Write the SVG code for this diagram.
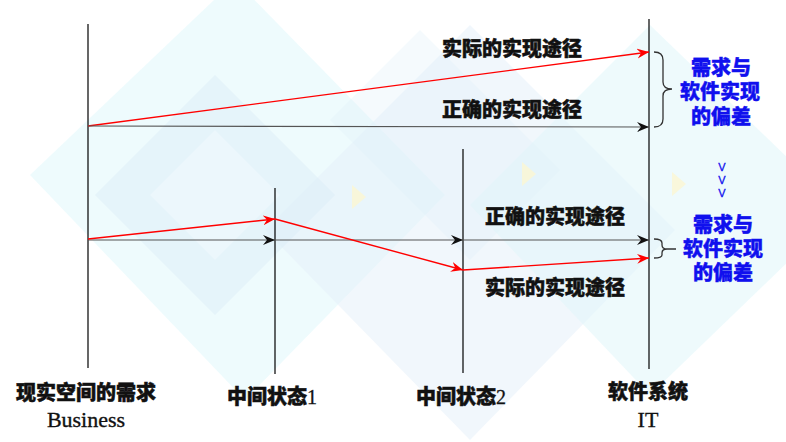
<svg xmlns="http://www.w3.org/2000/svg" width="786" height="442" viewBox="0 0 786 442">
<defs>
<style>
.vl{stroke:#000;stroke-width:1.2;fill:none}
.blk{stroke:#555;stroke-width:1.2;fill:none}
.red{stroke:#ff0000;stroke-width:1.4;fill:none}
.brace{stroke:#333;stroke-width:1.3;fill:none}
.cn{font-family:"Noto Sans CJK SC","Noto Sans",sans-serif;font-weight:900;font-size:20px;fill:#111;stroke:#111;stroke-width:0.5;text-anchor:middle}
.bl{font-family:"Noto Sans CJK SC","Noto Sans",sans-serif;font-weight:900;font-size:20px;fill:#1010ee;stroke:#1010ee;stroke-width:0.4;text-anchor:middle}
.en{font-family:"Liberation Serif",serif;font-size:22px;fill:#111;stroke:#111;stroke-width:0.35;text-anchor:middle}
.dg{font-family:"Liberation Serif",serif;font-weight:400;stroke:#111;stroke-width:0.3}
.chev{font-family:"Liberation Sans",sans-serif;font-size:11px;fill:#1010ee;stroke:#1010ee;stroke-width:0.3;text-anchor:middle}
</style>
<marker id="ab" markerUnits="userSpaceOnUse" markerWidth="13" markerHeight="11" refX="12" refY="5" orient="auto" viewBox="0 0 13 11">
<path d="M0,0 L12,5 L0,10 L4,5 z" fill="#111"/>
</marker>
<marker id="ar" markerUnits="userSpaceOnUse" markerWidth="13" markerHeight="11" refX="12" refY="5" orient="auto" viewBox="0 0 13 11">
<path d="M0,0 L12,5 L0,10 L4,5 z" fill="#ff0000"/>
</marker>
</defs>
<g id="background">
<rect width="786" height="442" fill="#ffffff"/>
<polygon points="30,175 235,-20 445,195 245,400" fill="#e2f8fb" opacity="0.6"/>
<polygon points="265,230 470,25 675,230 470,440" fill="#e5f0fa" opacity="0.55"/>
<polygon points="470,205 650,25 790,160 790,260 650,395" fill="#e0f5f9" opacity="0.55"/>
<polygon points="95,195 215,75 335,195 215,315" fill="#dcedf8" opacity="0.5"/>
<polygon points="150,195 215,130 280,195 215,260" fill="#eef8fc" opacity="0.8"/>
<polygon points="330,120 420,30 560,170 470,260" fill="#ddeef8" opacity="0.3"/>
<polygon points="352,185 366,197 352,209" fill="#fbf6d2" opacity="0.8"/>
<polygon points="522,162 536,174 522,186" fill="#fbf6d2" opacity="0.8"/>
<polygon points="672,172 686,184 672,196" fill="#fbf6d2" opacity="0.8"/>
</g>
<g id="node-business">
<line class="vl" x1="88" y1="24" x2="88" y2="368"/>
<text class="cn" x="86" y="400">现实空间的需求</text>
<text class="en" x="86" y="427">Business</text>
</g>
<g id="node-state1">
<line class="vl" x1="275" y1="188" x2="275" y2="374"/>
<text class="cn" x="272" y="404">中间状态<tspan class="dg">1</tspan></text>
</g>
<g id="node-state2">
<line class="vl" x1="463" y1="149" x2="463" y2="373"/>
<text class="cn" x="461" y="404">中间状态<tspan class="dg">2</tspan></text>
</g>
<g id="node-it">
<line class="vl" x1="649" y1="19" x2="649" y2="369"/>
<text class="cn" x="648" y="399">软件系统</text>
<text class="en" x="648" y="427">IT</text>
</g>
<g id="connectors">
<line class="red" x1="88" y1="126" x2="649" y2="52" marker-end="url(#ar)"/>
<line class="blk" x1="88" y1="126" x2="649" y2="127" marker-end="url(#ab)"/>
<line class="blk" x1="88" y1="240" x2="275" y2="240" marker-end="url(#ab)"/>
<line class="blk" x1="275" y1="240" x2="463" y2="240" marker-end="url(#ab)"/>
<line class="blk" x1="463" y1="240" x2="649" y2="240" marker-end="url(#ab)"/>
<line class="red" x1="88" y1="239" x2="275" y2="219" marker-end="url(#ar)"/>
<line class="red" x1="275" y1="219" x2="463" y2="270" marker-end="url(#ar)"/>
<line class="red" x1="463" y1="270" x2="649" y2="258" marker-end="url(#ar)"/>
</g>
<g id="path-labels">
<text class="cn" x="512" y="56">实际的实现途径</text>
<text class="cn" x="512" y="116.5">正确的实现途径</text>
<text class="cn" x="555" y="223.5">正确的实现途径</text>
<text class="cn" x="555" y="294.5">实际的实现途径</text>
</g>
<g id="deviation-top">
<path class="brace" d="M654,52 Q663,52 663,60 L663,82 Q663,89 672,89 Q663,89 663,96 L663,119 Q663,127 654,127"/>
<text class="bl"><tspan x="721" y="74.5">需求与</tspan><tspan x="720" y="99">软件实现</tspan><tspan x="721" y="123.5">的偏差</tspan></text>
</g>
<g id="chevrons">
<text class="chev" x="722" y="171">V</text>
<text class="chev" x="722" y="184">V</text>
<text class="chev" x="722" y="197">V</text>
</g>
<g id="deviation-bottom">
<path class="brace" d="M654,239 Q662,239 662,243 L662,245 Q662,249 667,249 L676,249 M667,249 Q662,249 662,253 L662,255 Q662,258 654,258"/>
<text class="bl"><tspan x="723" y="232">需求与</tspan><tspan x="723" y="256">软件实现</tspan><tspan x="723" y="280">的偏差</tspan></text>
</g>
</svg>
